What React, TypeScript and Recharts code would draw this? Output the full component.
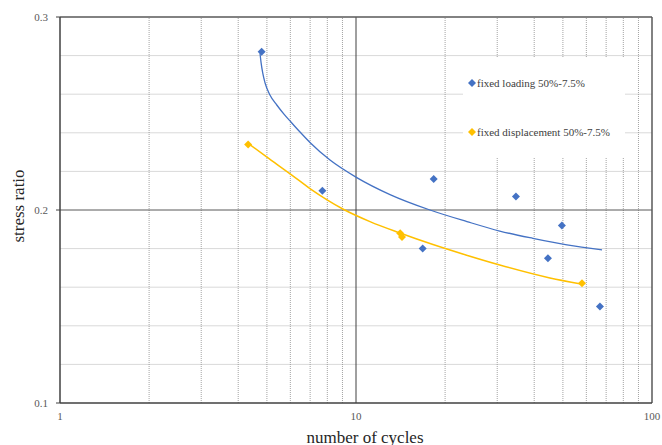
import React from "react";
import {
  ComposedChart,
  Scatter,
  Line,
  XAxis,
  YAxis,
  ReferenceLine,
  Legend,
} from "recharts";

// measured points
const loadingX = [4.8, 7.7, 18.3, 34.7, 16.8, 49.6, 44.5, 66.7];
const loadingY = [0.282, 0.21, 0.216, 0.207, 0.18, 0.192, 0.175, 0.15];
const dispX = [4.32, 14.1, 14.3, 58];
const dispY = [0.234, 0.188, 0.186, 0.162];

// trend curves
const loadingTrendX = [4.74, 4.78, 4.84, 4.93, 5.12, 5.4, 5.71, 6.07, 6.47, 6.99, 8.17, 10.06, 13.03, 17.78, 23.7, 30.6, 39.6, 51.6, 67.8];
const loadingTrendY = [0.2811, 0.2762, 0.271, 0.2658, 0.2596, 0.2544, 0.2497, 0.2451, 0.2404, 0.235, 0.2259, 0.2168, 0.208, 0.2, 0.194, 0.1891, 0.1853, 0.1819, 0.1793];
const dispTrendX = [4.35, 4.99, 6.07, 6.99, 7.96, 9.06, 11.15, 14.08, 18.2, 23.5, 30.6, 45.2, 57.6];
const dispTrendY = [0.2342, 0.2275, 0.2181, 0.2111, 0.2054, 0.2004, 0.194, 0.1881, 0.1821, 0.1767, 0.1715, 0.1648, 0.1617];

const xTicks = [1, 10, 100];
const yTicks = [0.1, 0.2, 0.3];
const xMinor = [2, 3, 4, 5, 6, 7, 8, 9, 20, 30, 40, 50, 60, 70, 80, 90];
const yMinor = [0.12, 0.14, 0.16, 0.18, 0.22, 0.24, 0.26, 0.28];

const seriesNames = ["fixed loading 50%-7.5%", "fixed displacement 50%-7.5%"];

const BLUE = "#4472C4";
const GOLD = "#FFC000";
const FONT = "'Times New Roman', 'Liberation Serif', 'DejaVu Serif', serif";

const zip = (xs: number[], ys: number[]) => xs.map((x, i) => ({ x, y: ys[i] }));

const loadingData = zip(loadingX, loadingY);
const dispData = zip(dispX, dispY);
const loadingTrend = zip(loadingTrendX, loadingTrendY);
const dispTrend = zip(dispTrendX, dispTrendY);

const Diamond = (color: string) => (props: any) => {
  const { cx, cy } = props;
  const r = 4;
  return (
    <polygon
      points={`${cx},${cy - r} ${cx + r},${cy} ${cx},${cy + r} ${cx - r},${cy}`}
      fill={color}
    />
  );
};

const LegendBox = () => (
  <div
    style={{
      fontFamily: FONT,
      fontSize: 11,
      color: "#404040",
      background: "#fff",
      width: 162,
      height: 100,
      position: "relative",
    }}
  >
    {[BLUE, GOLD].map((c, i) => (
      <div
        key={i}
        style={{
          position: "absolute",
          left: 5,
          top: i === 0 ? 20 : 69,
          display: "flex",
          alignItems: "center",
          whiteSpace: "nowrap",
        }}
      >
        <svg width={8} height={8} style={{ marginRight: 1 }}>
          <polygon points="4,0 8,4 4,8 0,4" fill={c} />
        </svg>
        <span>{seriesNames[i]}</span>
      </div>
    ))}
  </div>
);

export default function App() {
  return (
    <div style={{ position: "absolute", left: 0, top: 0, background: "#fff" }}>
      <ComposedChart
        width={662}
        height={445}
        margin={{ top: 17, right: 10, bottom: 0, left: 0 }}
      >
        <XAxis
          type="number"
          dataKey="x"
          scale="log"
          domain={[1, 100]}
          ticks={xTicks}
          allowDataOverflow
          height={42}
          tickLine={false}
          tickSize={0}
          tickMargin={9}
          axisLine={{ stroke: "#404040", strokeWidth: 1.5 }}
          tick={{ fontFamily: FONT, fontSize: 11, fill: "#595959" }}
          label={{
            content: () => (
              <text
                x={365}
                y={437}
                textAnchor="middle"
                dominantBaseline="central"
                fontFamily={FONT}
                fontSize={17}
                fill="#262626"
              >
                number of cycles
              </text>
            ),
          }}
        />
        <YAxis
          type="number"
          dataKey="y"
          domain={[0.1, 0.3]}
          ticks={yTicks}
          allowDataOverflow
          width={60}
          tickSize={4}
          tickMargin={8}
          tickLine={{ stroke: "#404040" }}
          axisLine={{ stroke: "#404040", strokeWidth: 1.5 }}
          tick={{ fontFamily: FONT, fontSize: 11, fill: "#595959" }}
          label={{
            content: () => (
              <text
                x={18}
                y={206}
                transform="rotate(-90 18 206)"
                textAnchor="middle"
                dominantBaseline="central"
                fontFamily={FONT}
                fontSize={17}
                fill="#262626"
              >
                stress ratio
              </text>
            ),
          }}
        />
        {yMinor.map((v) => (
          <ReferenceLine key={`h${v}`} y={v} stroke="#d9d9d9" strokeWidth={1} />
        ))}
        {xMinor.map((v) => (
          <ReferenceLine key={`v${v}`} x={v} stroke="#8c8c8c" strokeWidth={0.8} strokeDasharray="1 1" />
        ))}
        <ReferenceLine y={0.2} stroke="#595959" strokeWidth={1} />
        <ReferenceLine x={10} stroke="#404040" strokeWidth={1} />
        <ReferenceLine y={0.3} stroke="#595959" strokeWidth={1.5} />
        <ReferenceLine x={100} stroke="#595959" strokeWidth={1.5} />
        <Legend
          layout="vertical"
          align="center"
          verticalAlign="middle"
          content={<LegendBox />}
          wrapperStyle={{ left: 463, top: 57, width: 162, height: 100 }}
        />
        <Line
          data={loadingTrend}
          dataKey="y"
          type="monotone"
          stroke={BLUE}
          strokeWidth={1.3}
          dot={false}
          activeDot={false}
          legendType="none"
          isAnimationActive={false}
        />
        <Line
          data={dispTrend}
          dataKey="y"
          type="monotone"
          stroke={GOLD}
          strokeWidth={1.5}
          dot={false}
          activeDot={false}
          legendType="none"
          isAnimationActive={false}
        />
        <Scatter
          name={seriesNames[0]}
          data={loadingData}
          fill={BLUE}
          shape={Diamond(BLUE)}
          isAnimationActive={false}
        />
        <Scatter
          name={seriesNames[1]}
          data={dispData}
          fill={GOLD}
          shape={Diamond(GOLD)}
          isAnimationActive={false}
        />
      </ComposedChart>
    </div>
  );
}
